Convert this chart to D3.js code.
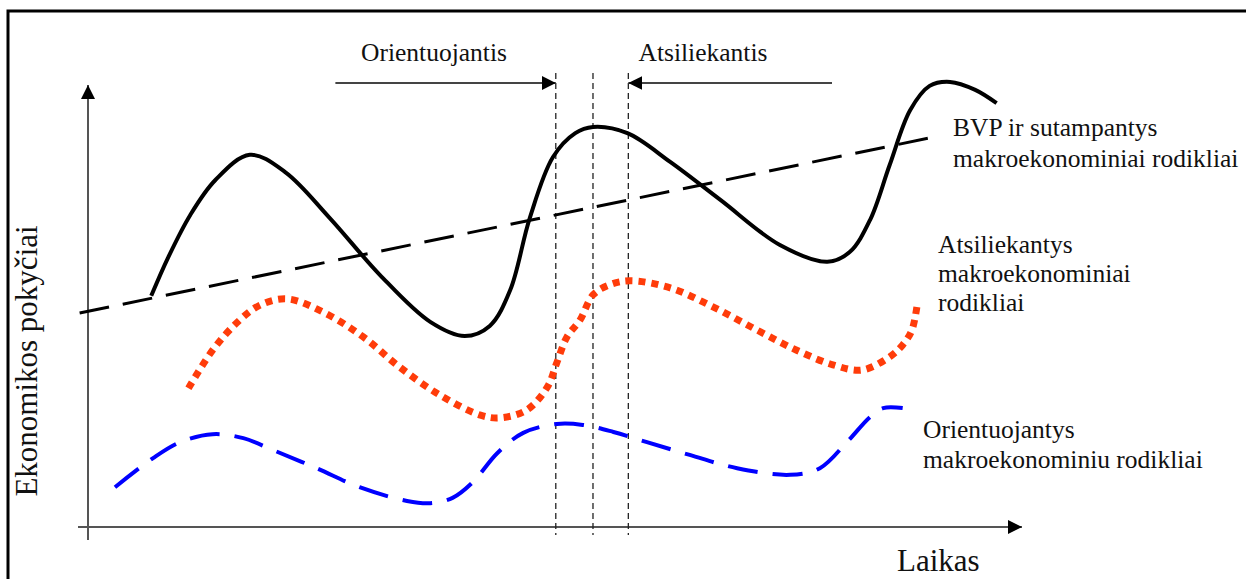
<!DOCTYPE html>
<html>
<head>
<meta charset="utf-8">
<script src="https://cdn.jsdelivr.net/npm/d3@7"></script>
<style>
  html, body { margin: 0; padding: 0; background: #fff; }
  text { font-family: "Liberation Serif", "Times New Roman", serif; fill: #111; }
</style>
</head>
<body>
<div id="cycleChart"></div>
<script>
// Duomenys: [laikas, reiksme] abstrakciais vienetais (0..100)
const bvpPoints = [
  [6.8, 52.3], [8.6, 60.9], [11.0, 70.6], [13.7, 78.5], [17.4, 84.2], [21.2, 80.3],
  [26.0, 69.9], [31.4, 57.0], [36.8, 46.4], [40.5, 43.2], [43.2, 45.5], [45.4, 53.6],
  [47.5, 69.9], [50.0, 83.7], [52.4, 89.1], [54.3, 90.5], [58.0, 89.1], [62.6, 82.6],
  [68.0, 74.0], [74.4, 63.8], [79.5, 60.0], [81.9, 62.2], [84.1, 69.5], [86.2, 81.9],
  [88.4, 94.3], [90.5, 99.8], [92.7, 100.7], [95.4, 98.9], [97.7, 95.9]
];
const trendPoints = [[-0.9, 48.4], [90.9, 88.2]];
const laggingPoints = [
  [10.8, 31.4], [13.4, 40.0], [16.0, 46.2], [18.5, 50.2], [21.4, 51.6], [25.3, 48.6],
  [29.6, 43.0], [33.5, 36.2], [37.8, 29.9], [42.2, 25.3], [44.3, 24.7], [47.2, 26.5],
  [49.4, 31.7], [50.4, 37.1], [51.5, 43.0], [52.9, 46.8], [54.3, 52.5], [56.1, 54.8],
  [58.3, 55.7], [62.6, 54.1], [67.2, 49.8], [71.9, 44.6], [76.2, 40.0], [80.1, 36.7],
  [83.2, 35.5], [86.2, 38.5], [87.6, 41.2], [88.6, 44.6], [89.2, 50.9]
];
const leadingPoints = [
  [2.9, 9.0], [7.0, 15.6], [9.9, 19.2], [13.4, 21.0], [16.7, 20.1], [19.9, 17.4],
  [24.6, 13.3], [29.2, 9.0], [34.3, 5.9], [36.8, 5.4], [39.2, 6.6], [41.4, 10.2],
  [44.0, 16.7], [46.8, 21.3], [50.4, 23.3], [53.2, 23.1], [56.5, 21.5], [60.1, 19.2],
  [64.7, 16.3], [69.8, 13.3], [75.5, 11.8], [78.7, 13.3], [81.6, 19.2], [84.1, 24.9],
  [85.5, 26.9], [87.6, 26.9]
];
const markerTimes = [50.3, 54.3, 58.1];
const leadArrow = [26.6, 50.3];
const lagArrow = [80.0, 58.1];

const topLabels = ["Orientuojantis", "Atsiliekantis"];
const bvpLabel = ["BVP ir sutampantys", "makroekonominiai rodikliai"];
const lagLabel = ["Atsiliekantys", "makroekonominiai", "rodikliai"];
const leadLabel = ["Orientuojantys", "makroekonominiu rodikliai"];
const xTitle = "Laikas";
const yTitle = "Ekonomikos pokyčiai";

const W = 1246, H = 579;
const svg = d3.select("#cycleChart").append("svg")
  .attr("width", W).attr("height", H);

// Rėmelis
svg.append("rect")
  .attr("x", 8).attr("y", 11)
  .attr("width", W + 20).attr("height", H + 20)
  .attr("fill", "none").attr("stroke", "#000").attr("stroke-width", 3);

// Skalės
const x = d3.scaleLinear().domain([0, 100]).range([88, 1018]);
const y = d3.scaleLinear().domain([0, 100]).range([527, 85]);

const defs = svg.append("defs");
defs.append("marker")
  .attr("id", "arrow")
  .attr("viewBox", "0 0 10 10")
  .attr("refX", 10).attr("refY", 5)
  .attr("markerWidth", 14).attr("markerHeight", 14)
  .attr("markerUnits", "userSpaceOnUse")
  .attr("orient", "auto")
  .append("path").attr("d", "M0,0 L10,5 L0,10 Z").attr("fill", "#000");

// Ašys
svg.append("line")
  .attr("x1", 78).attr("x2", x(100) + 4)
  .attr("y1", y(0)).attr("y2", y(0))
  .attr("stroke", "#555").attr("stroke-width", 2)
  .attr("marker-end", "url(#arrow)");
svg.append("line")
  .attr("x1", x(0)).attr("x2", x(0))
  .attr("y1", 540).attr("y2", y(100))
  .attr("stroke", "#555").attr("stroke-width", 2)
  .attr("marker-end", "url(#arrow)");

// Vertikalios punktyrinės linijos
svg.selectAll(".marker-line")
  .data(markerTimes)
  .enter().append("line")
  .attr("class", "marker-line")
  .attr("x1", d => x(d)).attr("x2", d => x(d))
  .attr("y1", 73).attr("y2", 535)
  .attr("stroke", "#222").attr("stroke-width", 1.3)
  .attr("stroke-dasharray", "6,4");

// Viršutinės rodyklės
const arrowY = 83;
[leadArrow, lagArrow].forEach(a => {
  svg.append("line")
    .attr("x1", x(a[0])).attr("x2", x(a[1]))
    .attr("y1", arrowY).attr("y2", arrowY)
    .attr("stroke", "#444").attr("stroke-width", 2)
    .attr("marker-end", "url(#arrow)");
});

svg.append("text")
  .attr("x", 434).attr("y", 61)
  .attr("text-anchor", "middle")
  .style("font-size", "25.5px")
  .text(topLabels[0]);
svg.append("text")
  .attr("x", 703).attr("y", 61)
  .attr("text-anchor", "middle")
  .style("font-size", "25.5px")
  .text(topLabels[1]);

// Kreivės
const line = d3.line()
  .x(d => x(d[0])).y(d => y(d[1]))
  .curve(d3.curveCatmullRom.alpha(0.5));

svg.append("path")
  .datum(trendPoints)
  .attr("d", d3.line().x(d => x(d[0])).y(d => y(d[1])))
  .attr("fill", "none").attr("stroke", "#000")
  .attr("stroke-width", 3).attr("stroke-dasharray", "30,14");

svg.append("path")
  .datum(laggingPoints)
  .attr("d", line)
  .attr("fill", "none").attr("stroke", "#ff3c0a")
  .attr("stroke-width", 7).attr("stroke-dasharray", "7,6");

svg.append("path")
  .datum(leadingPoints)
  .attr("d", line)
  .attr("fill", "none").attr("stroke", "#0000ff")
  .attr("stroke-width", 4).attr("stroke-dasharray", "30,15");

svg.append("path")
  .datum(bvpPoints)
  .attr("d", line)
  .attr("fill", "none").attr("stroke", "#000")
  .attr("stroke-width", 4);

// Kreivių etiketės
function multiLine(lines, xPos, yPos, step) {
  lines.forEach((t, i) => {
    svg.append("text")
      .attr("x", xPos).attr("y", yPos + i * step)
      .style("font-size", "25.5px")
      .text(t);
  });
}
multiLine(bvpLabel, 953, 136, 31);
multiLine(lagLabel, 938, 253, 29);
multiLine(leadLabel, 923, 438, 30);

// Ašių pavadinimai
svg.append("text")
  .attr("x", 897).attr("y", 571)
  .style("font-size", "31px")
  .text(xTitle);

svg.append("text")
  .attr("transform", "translate(37, 361) rotate(-90)")
  .attr("text-anchor", "middle")
  .style("font-size", "31px")
  .text(yTitle);
</script>
</body>
</html>
